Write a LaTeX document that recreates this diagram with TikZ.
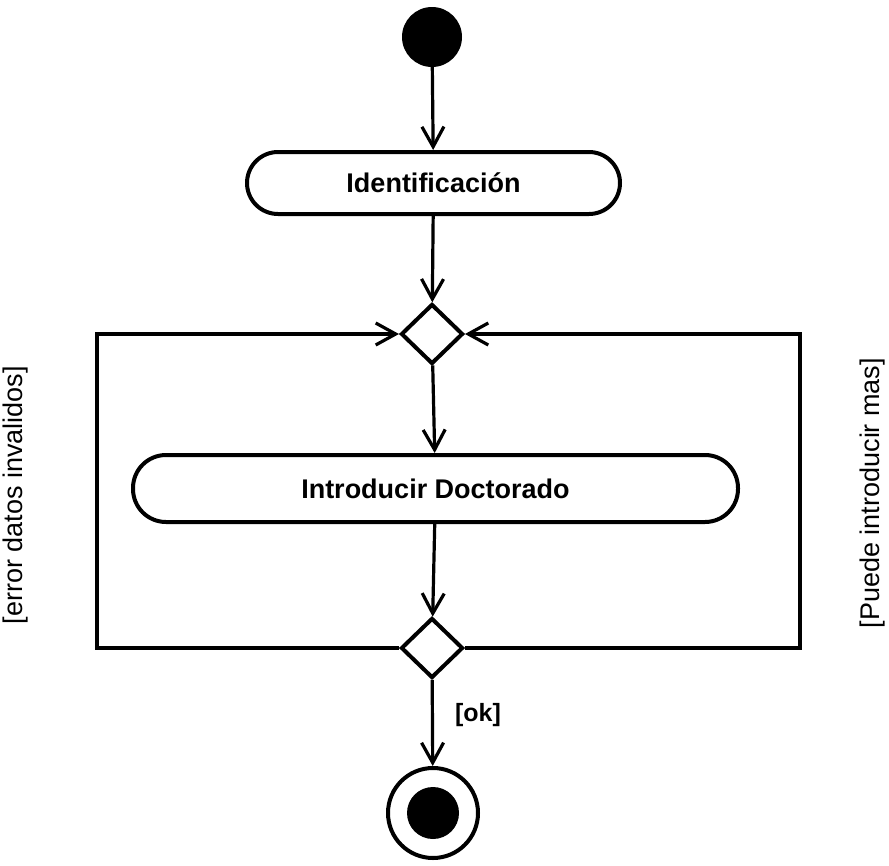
\documentclass[tikz,border=0pt]{standalone}
\usepackage{fontspec}
\setmainfont{Liberation Sans}
\usetikzlibrary{arrows, arrows.meta}
\usetikzlibrary{shapes.geometric}

\tikzset{
  act/.style={draw, line width=4pt, rectangle, rounded corners=31pt, inner sep=0pt,
    font=\fontsize{27}{32}\selectfont\bfseries},
  dec/.style={draw, line width=4pt, diamond, inner sep=0pt, minimum width=62pt, minimum height=60pt},
  flow/.style={line width=3.2pt, -{Straight Barb[length=20pt, width=22pt, line width=3.2pt]}},
  guard/.style={font=\fontsize{27}{32}\selectfont, rotate=90}
}

\begin{document}
\begin{tikzpicture}[x=1pt, y=-1pt]
      \useasboundingbox (0,0) rectangle (889,865);
      \node[circle, fill, inner sep=0pt, minimum size=60pt] (start) at (432,37) {};
      \node[act, minimum width=373pt, minimum height=62pt] (ident) at (433.5,183) {Identificación};
      \node[dec] (dtop) at (432,334) {};
      \node[act, minimum width=605pt, minimum height=67pt, rounded corners=33pt] (intro) at (435.5,488.5) {Introducir Doctorado};
      \node[dec] (dbot) at (432,648) {};
      \node[circle, draw, line width=4pt, inner sep=0pt, minimum size=90pt] (fin) at (433,813) {};
      \node[circle, fill, inner sep=0pt, minimum size=52pt] (finin) at (fin) {};

      \coordinate (tl) at (97,334);
      \coordinate (bl) at (97,648);
      \coordinate (tr) at (800,334);
      \coordinate (br) at (800,648);

      \node[font=\fontsize{25}{30}\selectfont\bfseries] (ok) at (478,715) {[ok]};
      \node[guard] (err) at (16,495) {[error datos invalidos]};
      \node[guard] (mas) at (873,493) {[Puede introducir mas]};

      \draw[flow] (start) -- (ident);
      \draw[flow] (ident) -- (dtop);
      \draw[flow] (dtop) -- (intro);
      \draw[flow] (intro) -- (dbot);
      \draw[flow] (dbot) -- (fin);
      \draw[flow] (dbot.west) -- (bl) -- (tl) -- (dtop.west);
      \draw[flow] (dbot.east) -- (br) -- (tr) -- (dtop.east);
    \end{tikzpicture}
\end{document}
